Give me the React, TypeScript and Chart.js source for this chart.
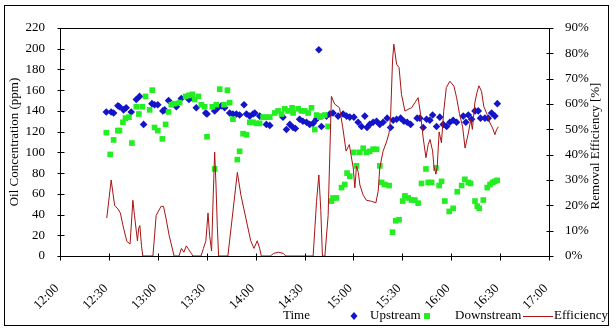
import React, { useEffect, useRef } from "react";
import { Chart, registerables } from "chart.js";

Chart.register(...registerables);

// Time axis: minutes after 12:00
const timeTickLabels = ["12:00", "12:30", "13:00", "13:30", "14:00", "14:30", "15:00", "15:30", "16:00", "16:30", "17:00"];
const leftAxisLabel = "Oil Concentration (ppm)";
const rightAxisLabel = "Removal Efficiency [%]";
const xAxisLabel = "Time";
const seriesNames = ["Upstream", "Downstream", "Efficiency"];

const upstreamTime = [
  28.4, 31.4, 32.9, 35.5, 36.5, 39, 40.6, 43.7, 46.8, 48.8, 51.3, 56.4, 58, 60, 63.1, 64.2, 66.6, 71.4, 74.4, 79.1,
  80.6, 83.6, 89.4, 90.2, 94.9, 96.9, 99, 101, 104.1, 106.1, 108.2, 110.2, 112.9, 114.4, 116.4, 118.4, 119.5, 122.5,
  126.6, 128.7, 136.8, 138.9, 141, 143, 144.4, 147, 149, 151.2, 153.2, 155.3, 157.3, 158.8, 160.4, 163.5, 165.5, 167.5,
  170.6, 173.7, 175.8, 177.8, 180.3, 182.9, 185, 187, 188.4, 190, 192.1, 194.2, 196.2, 198.2, 200.7, 202.8, 204.4,
  206.5, 209, 211, 213, 215.1, 219.1, 220.8, 222.8, 224.9, 226.9, 228.6, 231, 233, 235.1, 237.2, 239.2, 241.2, 243.3,
  247.4, 249, 250.5, 252.5, 254.6, 256.6, 258, 260.7, 262.7, 264.8, 266.8, 268.3,
];
const upstreamPpm = [
  139, 139, 138, 145, 144, 141, 143, 139, 151, 154, 127, 147, 146, 146, 140, 141, 150, 144, 152, 151,
  153, 143, 138, 137, 140, 143, 145, 143, 138, 137, 137, 136, 146, 137, 135, 137, 138, 135,
  127, 126, 134, 122, 127, 124, 123, 132, 130, 129, 127, 128, 132, 199, 125, 135, 137, 138,
  135, 137, 135, 134, 134, 129, 125, 135, 124, 127, 129, 130, 127, 129, 133, 124, 131,
  132, 133, 130, 129, 127, 133, 133, 124, 132, 131, 136, 125, 134, 127, 125, 129, 131, 129,
  135, 129, 136, 132, 140, 140, 133, 133, 133, 138, 135, 147,
];

const downstreamTime = [
  28.4, 30.8, 32.9, 35.5, 36.5, 38.6, 40.2, 42.3, 44.1, 46.8, 48.4, 50.5, 52.5, 55, 56.6, 58, 60, 62.8, 64.8, 66.6,
  68.3, 70.3, 73.4, 77.1, 79.1, 81.2, 82.6, 84.9, 86.7, 88.7, 90.2, 93.5, 94.9, 95.9, 98, 100.6, 102.7, 104.1, 106.1,
  108.8, 110.2, 112.3, 114.4, 116.4, 118.4, 120.5, 122.5, 124.6, 126.6, 128.7, 131.7, 133.8, 135.9, 137.9, 139.9,
  142.4, 143, 146.1, 148.1, 150.2, 152.2, 154.3, 156.3, 157.4, 159.4, 160.4, 162.4, 164.5, 166.5, 167.5, 169.6,
  172.7, 174.7, 176.1, 177.8, 180.3, 181.9, 183.9, 186, 188, 190, 192.1, 194.2, 196.2, 197.3, 199.3, 201.9, 204,
  206, 208, 210.2, 211.6, 213.6, 215.7, 217.7, 219.7, 221.8, 224.5, 225.9, 228, 230.6, 232.6, 234.1, 236.1, 238.8,
  241.2, 243.7, 246.4, 248.4, 250.5, 251.9, 254.6, 256, 257.2, 259.7, 262.1, 263.8, 265.4, 266.8, 268.2,
];
const downstreamPpm = [
  119, 98, 112, 121, 121, 129, 133, 134, 109, 144, 137, 144, 154, 141, 160, 124, 121, 113, 127, 139,
  146, 147, 148, 154, 155, 156, 151, 154, 146, 144, 115, 144, 84, 146, 161, 146, 160, 148, 132,
  93, 101, 118, 117, 129, 129, 128, 128, 134, 134, 134, 138, 140, 137, 142, 140,
  143, 138, 142, 140, 140, 138, 143, 122, 136, 134, 135, 136, 125, 53, 56, 56,
  66, 69, 80, 77, 100, 87, 100, 104, 100, 101, 103, 103, 87, 71, 69, 68, 23,
  34, 35, 53, 58, 56, 54, 54, 51, 70, 84, 71, 71, 85, 68, 72, 53, 43,
  46, 62, 68, 74, 71, 70, 53, 48, 46, 54, 66, 69, 71, 72, 73,
];

const efficiencyTime = [
  28.7, 31.4, 33.5, 35.5, 37, 39, 41, 43, 44.7, 45.7, 47.5, 48.3, 49, 50, 50.8, 57, 59, 62, 63.5, 65, 67, 70, 73,
  74.5, 76, 77.5, 78.5, 80.6, 81.5, 86.5, 88, 89.5, 90.8, 91.8, 93, 94, 94.9, 95.7, 96.5, 97.3, 103, 108.8, 111,
  114, 117, 119, 121, 122.5, 123.5, 129, 131, 134, 137, 138.5, 155.3, 157.4, 158.8, 160, 161, 162.5, 164.5, 166.5,
  168.5, 171.5, 173.5, 175.5, 176.5, 177.5, 178.5, 179.9, 180.9, 181.9, 183, 184, 186, 188, 191, 193.8, 195.2,
  196.2, 198.2, 200.3, 201.9, 202.8, 204, 204.8, 206.5, 208, 209.5, 211.6, 213.6, 215.7, 217.7, 219.7, 221.2,
  222.8, 224.5, 225.9, 227, 228.6, 229.4, 230.6, 231.4, 232.6, 234, 235.4, 237, 239.2, 241.7, 243.3, 245, 247,
  248.5, 250.5, 252, 253, 254.5, 255.6, 257, 258.6, 260, 262.1, 263.8, 265.4, 266.8, 267.8, 268.9,
];
const efficiencyPct = [
  15, 30, 20, 18.6, 17, 11, 5.8, 4.7, 22, 16, 6, 11, 12, 4, 0, 0, 16, 19.6, 19.6, 15, 8, 0, 0,
  3, 1.5, 4, 3, 1, 0, 0, 3, 6, 17, 8, 2, 24, 41, 28, 12, 0, 0, 33, 24,
  15, 6, 3, 6, 3, 0, 0, 1, 1.5, 1, 0, 0, 21.6, 32, 18, 0, 0, 16, 63,
  60, 58.5, 50.6, 41.4, 42.7, 44, 40, 34.8, 26.9, 35.5, 33, 28, 24, 22, 21.6, 21, 25.6,
  34.8, 41.4, 45, 48.6, 54.6, 77, 83.6, 75.7, 74.4, 63.8, 57.2, 57.9, 58.5, 60.5, 62.5, 56,
  46.7, 38.8, 44, 46, 41.4, 35.5, 32.3, 35, 49, 44.7, 57, 66.5, 69, 67, 62.5, 56.4, 51,
  42.6, 48.5, 53.8, 50, 60.4, 64, 67.2, 65, 59, 55.8, 52.5, 50.5, 47.9, 49.8, 51,
];

const FONT = "'Liberation Serif', 'Times New Roman', serif";
const BLUE = "#1414C8";
const GREEN = "#22EE22";
const RED = "#A81414";

const decorPlugin = {
  id: "decor",
  beforeDraw(chart: any) {
    const { ctx, width, height } = chart;
    ctx.save();
    ctx.fillStyle = "#fff";
    ctx.fillRect(0, 0, width, height);
    ctx.restore();
  },
  afterDraw(chart: any) {
    const { ctx, chartArea: a } = chart;
    ctx.save();
    ctx.strokeStyle = "#000";
    ctx.lineWidth = 1;
    // outer frame
    ctx.strokeRect(4.5, 5.5, 604, 320);
    // plot area box
    const L = Math.round(a.left) + 0.5;
    const R = Math.round(a.right) + 0.5;
    const T = Math.round(a.top) + 0.5;
    const B = Math.round(a.bottom) + 0.5;
    ctx.strokeRect(L, T, R - L, B - T);
    // tick marks
    ctx.beginPath();
    const xs = chart.scales.x;
    xs.ticks.forEach((t: any) => {
      const px = Math.round(xs.getPixelForValue(t.value)) + 0.5;
      ctx.moveTo(px, B - 3);
      ctx.lineTo(px, B + 4);
    });
    const ys = chart.scales.y;
    ys.ticks.forEach((t: any) => {
      const py = Math.round(ys.getPixelForValue(t.value)) + 0.5;
      ctx.moveTo(L - 3, py);
      ctx.lineTo(L + 4, py);
    });
    const y1 = chart.scales.y1;
    y1.ticks.forEach((t: any) => {
      const py = Math.round(y1.getPixelForValue(t.value)) + 0.5;
      ctx.moveTo(R - 3, py);
      ctx.lineTo(R + 4, py);
    });
    ctx.stroke();

    // axis titles
    ctx.fillStyle = "#000";
    ctx.font = `13px ${FONT}`;
    ctx.textBaseline = "middle";
    ctx.textAlign = "center";
    ctx.save();
    ctx.translate(15, (a.top + a.bottom) / 2);
    ctx.rotate(-Math.PI / 2);
    ctx.fillText(leftAxisLabel, 0, 0);
    ctx.restore();
    ctx.save();
    ctx.translate(596, (a.top + a.bottom) / 2 + 4);
    ctx.rotate(-Math.PI / 2);
    ctx.fillText(rightAxisLabel, 0, 0);
    ctx.restore();

    // x title and legend
    const ly = 316;
    ctx.textAlign = "left";
    ctx.fillText(xAxisLabel, 283, ly);
    ctx.fillStyle = BLUE;
    ctx.beginPath();
    ctx.moveTo(354, ly - 4);
    ctx.lineTo(357.5, ly);
    ctx.lineTo(354, ly + 4);
    ctx.lineTo(350.5, ly);
    ctx.closePath();
    ctx.fill();
    ctx.fillStyle = "#000";
    ctx.fillText(seriesNames[0], 370, ly);
    ctx.fillStyle = GREEN;
    ctx.fillRect(424, ly - 3, 6, 6);
    ctx.fillStyle = "#000";
    ctx.fillText(seriesNames[1], 455, ly);
    ctx.strokeStyle = RED;
    ctx.beginPath();
    ctx.moveTo(523, ly + 0.5);
    ctx.lineTo(553, ly + 0.5);
    ctx.stroke();
    ctx.fillText(seriesNames[2], 554, ly);
    ctx.restore();
  },
};

export default function App() {
  const canvasRef = useRef<HTMLCanvasElement | null>(null);

  useEffect(() => {
    const canvas = canvasRef.current;
    if (!canvas) return;
    Chart.defaults.font.family = FONT;
    Chart.defaults.font.size = 13;
    Chart.defaults.color = "#000";

    const upPts = upstreamTime.map((t, i) => ({ x: t, y: upstreamPpm[i] }));
    const downPts = downstreamTime.map((t, i) => ({ x: t, y: downstreamPpm[i] }));
    const effPts = efficiencyTime.map((t, i) => ({ x: t, y: efficiencyPct[i] }));

    const chart = new Chart(canvas, {
      type: "scatter",
      data: {
        datasets: [
          {
            label: seriesNames[2],
            data: effPts,
            yAxisID: "y1",
            showLine: true,
            borderColor: RED,
            borderWidth: 1,
            pointRadius: 0,
            tension: 0,
            order: 0,
          },
          {
            label: seriesNames[1],
            data: downPts,
            yAxisID: "y",
            pointStyle: "rect",
            pointRadius: 4,
            backgroundColor: GREEN,
            borderWidth: 0,
            order: 1,
          },
          {
            label: seriesNames[0],
            data: upPts,
            yAxisID: "y",
            pointStyle: "rectRot",
            pointRadius: 3.8,
            backgroundColor: BLUE,
            borderWidth: 0,
            order: 2,
          },
        ],
      },
      options: {
        responsive: false,
        animation: false,
        devicePixelRatio: 1,
        layout: { padding: { top: 28, left: 0, right: 0, bottom: 0 } },
        plugins: { legend: { display: false }, tooltip: { enabled: false } },
        scales: {
          x: {
            type: "linear",
            min: 0,
            max: 300,
            grid: { display: false },
            border: { display: false },
            ticks: {
              stepSize: 30,
              maxRotation: 45,
              minRotation: 45,
              padding: 17,
              labelOffset: -3,
              autoSkip: false,
              callback: (v: any) => timeTickLabels[Math.round(Number(v) / 30)] ?? "",
            },
            afterFit: (s: any) => {
              s.height = 74;
            },
          },
          y: {
            position: "left",
            min: 0,
            max: 220,
            grid: { display: false },
            border: { display: false },
            ticks: { stepSize: 20, padding: 7 },
            afterFit: (s: any) => {
              s.width = 60;
            },
          },
          y1: {
            position: "right",
            min: 0,
            max: 90,
            grid: { display: false },
            border: { display: false },
            ticks: { stepSize: 10, padding: 8, callback: (v: any) => `${v}%` },
            afterFit: (s: any) => {
              s.width = 67;
            },
          },
        },
      },
      plugins: [decorPlugin],
    });
    return () => chart.destroy();
  }, []);

  return (
    <div style={{ position: "absolute", left: 0, top: 0, width: 616, height: 330, background: "#fff" }}>
      <canvas ref={canvasRef} width={616} height={330} style={{ display: "block" }} />
    </div>
  );
}
